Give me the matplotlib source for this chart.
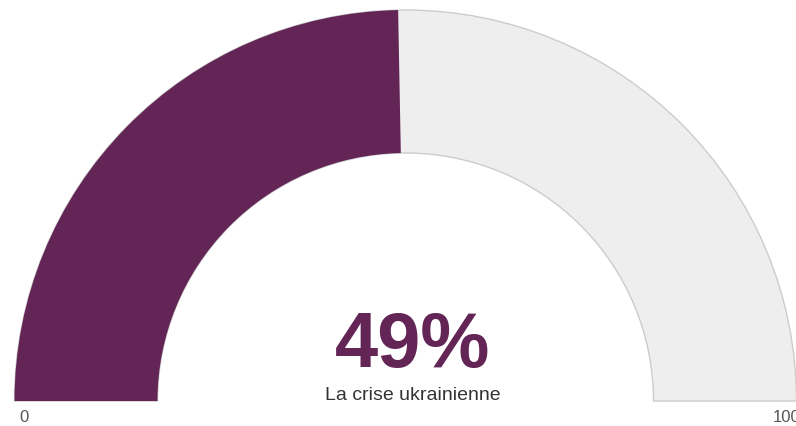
import matplotlib
matplotlib.use("Agg")
import matplotlib.pyplot as plt
from matplotlib.patches import Wedge

value = 49.4
value_label = "49%"
series_name = "La crise ukrainienne"
axis_min = 0
axis_max = 100

W, H = 796, 426
fig = plt.figure(figsize=(W / 100, H / 100), dpi=100)
ax = fig.add_axes([0, 0, 1, 1])
R = 391.0
cx, cy = 405.5, 25.0  # px from left / bottom
ax.set_xlim(-cx / R, (W - cx) / R)
ax.set_ylim(-cy / R, (H - cy) / R)
ax.axis("off")

inner = 248.0 / R
width = 1 - inner

ax.add_patch(Wedge((0, 0), 1, 0, 180, width=width, facecolor="#eeeeee",
                   edgecolor="#cccccc", linewidth=1.0))
frac = (value - axis_min) / (axis_max - axis_min)
ax.add_patch(Wedge((0, 0), 1, 180 - frac * 180, 180, width=width,
                   facecolor="#632456", edgecolor="none"))

font = "Liberation Sans"
ax.text((412.5 - cx) / R, 0.087, value_label, ha="center", va="baseline",
        fontsize=56, fontweight="bold", color="#632456", family=font)
ax.text((413 - cx) / R, 1 / R, series_name, ha="center", va="baseline",
        fontsize=14, color="#333333", family=font)
ax.text(-0.976, -21 / R, str(axis_min), ha="center", va="baseline",
        fontsize=12, color="#555555", family=font)
ax.text(0.976, -21 / R, str(axis_max), ha="center", va="baseline",
        fontsize=12, color="#555555", family=font)

fig.savefig("out.png", dpi=100)
